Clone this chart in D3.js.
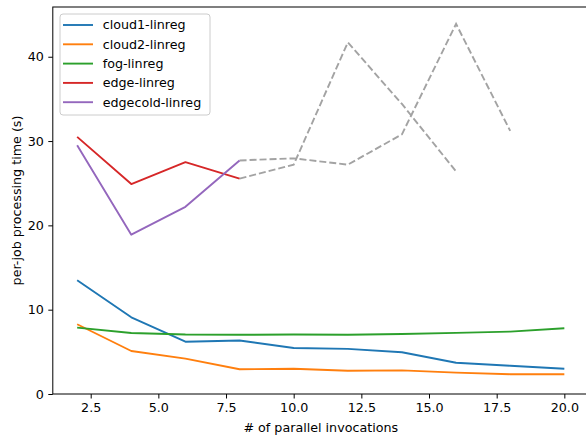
<!DOCTYPE html>
<html>
<head>
<meta charset="utf-8">
<script src="https://cdn.jsdelivr.net/npm/d3@7"></script>
<style>
  body { margin: 0; background: #fff; }
  svg { display: block; font-family: "DejaVu Sans", sans-serif; }
</style>
</head>
<body>
<svg width="586" height="439"></svg>
<script>
// invocations on the x axis
const invocations = [2, 4, 6, 8, 10, 12, 14, 16, 18, 20];
const cloud1 = [13.5, 9.1, 6.2, 6.35, 5.45, 5.35, 4.95, 3.7, 3.35, 3.0];
const cloud2 = [8.27, 5.1, 4.2, 2.93, 3.0, 2.76, 2.8, 2.53, 2.35, 2.35];
const fog = [7.87, 7.23, 7.05, 7.02, 7.05, 7.02, 7.12, 7.25, 7.4, 7.8];
const edge = [30.5, 24.9, 27.5, 25.55];
const edgecold = [29.5, 18.9, 22.2, 27.7];
// grey dashed continuations
const edgeRest = [25.55, 27.2, 41.7, 34.4, 26.4];
const edgecoldRest = [27.7, 27.95, 27.2, 30.8, 43.9, 31.2];
const xTicks = [2.5, 5.0, 7.5, 10.0, 12.5, 15.0, 17.5, 20.0];
const yTicks = [0, 10, 20, 30, 40];

const svg = d3.select('svg');
const box = {left: 52.8, top: 7, bottom: 394, right: 588.7};

const x = d3.scaleLinear().domain([1.1, 20.9]).range([box.left, box.right]);
const y = d3.scaleLinear().domain([0, 45.9]).range([box.bottom, box.top]);

const series = [
  {name: 'cloud1-linreg', values: cloud1, offset: 0, color: '#1f77b4'},
  {name: 'cloud2-linreg', values: cloud2, offset: 0, color: '#ff7f0e'},
  {name: 'fog-linreg', values: fog, offset: 0, color: '#2ca02c'},
  {name: 'edge-linreg', values: edge, offset: 0, color: '#d62728'},
  {name: 'edgecold-linreg', values: edgecold, offset: 0, color: '#9467bd'}
];
const greys = [
  {values: edgeRest, offset: 3},
  {values: edgecoldRest, offset: 3}
];

const line = d3.line()
  .x((d) => x(d[0]))
  .y((d) => y(d[1]));

function points(s) {
  return s.values.map((v, i) => [invocations[i + s.offset], v]);
}

svg.append('clipPath').attr('id', 'plot')
  .append('rect').attr('x', box.left).attr('y', box.top)
  .attr('width', box.right - box.left).attr('height', box.bottom - box.top);

const plot = svg.append('g').attr('clip-path', 'url(#plot)');

greys.forEach((s) => {
  plot.append('path')
    .attr('d', line(points(s)))
    .attr('fill', 'none')
    .attr('stroke', '#a3a3a3')
    .attr('stroke-width', 1.9)
    .attr('stroke-dasharray', '7,3');
});

series.forEach((s) => {
  plot.append('path')
    .attr('d', line(points(s)))
    .attr('fill', 'none')
    .attr('stroke', s.color)
    .attr('stroke-width', 1.9)
    .attr('stroke-linejoin', 'round');
});

// axes
const xAxis = svg.append('g')
  .attr('transform', `translate(0,${box.bottom})`)
  .call(d3.axisBottom(x).tickValues(xTicks).tickFormat(d3.format('.1f')).tickSizeOuter(0).tickSize(4.5).tickPadding(4.5));
const yAxis = svg.append('g')
  .attr('transform', `translate(${box.left},0)`)
  .call(d3.axisLeft(y).tickValues(yTicks).tickSizeOuter(0).tickSize(4.5).tickPadding(4.5));

[xAxis, yAxis].forEach((g) => {
  g.select('.domain').remove();
  g.selectAll('text').attr('font-size', 12.7).attr('fill', '#000').attr('font-family', '"DejaVu Sans"');
  g.selectAll('line').attr('stroke', '#000').attr('stroke-width', 1);
});

// spines
svg.append('rect')
  .attr('x', box.left).attr('y', box.top)
  .attr('width', box.right - box.left).attr('height', box.bottom - box.top)
  .attr('fill', 'none').attr('stroke', '#000').attr('stroke-width', 1);

svg.append('text')
  .attr('x', (box.left + box.right) / 2).attr('y', 432)
  .attr('text-anchor', 'middle').attr('font-size', 12.7)
  .text('# of parallel invocations');

svg.append('text')
  .attr('transform', `translate(21,${(box.top + box.bottom) / 2}) rotate(-90)`)
  .attr('text-anchor', 'middle').attr('font-size', 12.7)
  .text('per-job processing time (s)');

// legend
const legend = svg.append('g');
legend.append('rect')
  .attr('x', 60).attr('y', 14).attr('width', 150).attr('height', 101)
  .attr('rx', 3).attr('fill', 'rgba(255,255,255,0.8)')
  .attr('stroke', '#cccccc').attr('stroke-width', 1);
series.forEach((s, i) => {
  const ly = 25 + i * 19.3;
  legend.append('line')
    .attr('x1', 63).attr('x2', 93).attr('y1', ly).attr('y2', ly)
    .attr('stroke', s.color).attr('stroke-width', 1.9);
  legend.append('text')
    .attr('x', 102.7).attr('y', ly).attr('dy', '0.35em')
    .attr('font-size', 12.7)
    .text(s.name);
});
</script>
</body>
</html>
